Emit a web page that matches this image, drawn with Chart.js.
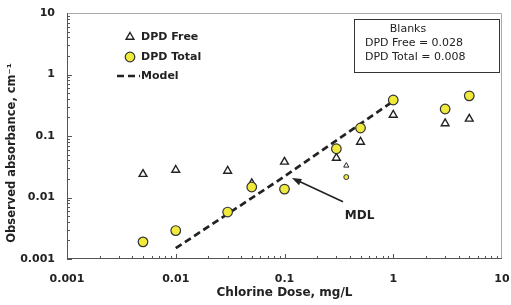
<!DOCTYPE html>
<html>
<head>
<meta charset="utf-8">
<script src="https://cdn.jsdelivr.net/npm/chart.js@4.4.1/dist/chart.umd.min.js"></script>
<style>
  body { margin: 0; background: #fff; }
  #chart { display: block; }
</style>
</head>
<body>
<canvas id="chart" width="511" height="305"></canvas>
<script>
// chlorine dose, mg/L
var doses = [0.005, 0.01, 0.03, 0.05, 0.1, 0.3, 0.5, 1, 3, 5];
// observed absorbance, cm-1
var dpdFree = [0.024, 0.028, 0.027, 0.017, 0.038, 0.044, 0.080, 0.22, 0.16, 0.19];
var dpdTotal = [0.0019, 0.0029, 0.0058, 0.0148, 0.0137, 0.062, 0.135, 0.385, 0.275, 0.45];
// one extra point drawn with small markers
var extraDose = [0.37];
var extraFree = [0.033];
var extraTotal = [0.0215];
// model line
var modelDose = [0.01, 0.1, 1];
var modelAbs = [0.0015, 0.022, 0.37];

var tickValues = [0.001, 0.01, 0.1, 1, 10];
var tickLabels = ['0.001', '0.01', '0.1', '1', '10'];
var blanksText = ['Blanks', 'DPD Free = 0.028', 'DPD Total = 0.008'];
// MDL arrow: tip, tail, label (data units)
var mdlTip = [0.117, 0.0207];
var mdlTail = [0.345, 0.0085];
var mdlLabel = [0.49, 0.005];

var FONT = 'DejaVu Sans';
var INK = '#222';
var YELLOW = '#f0ea3c';

function pts(xs, ys) {
    return xs.map(function (x, i) { return { x: x, y: ys[i] }; });
}

var extras = {
    id: 'extras',
    beforeDatasetsDraw: function (chart) {
        var ctx = chart.ctx, a = chart.chartArea;
        var xs = chart.scales.x, ys = chart.scales.y;
        ctx.save();
        // frame
        ctx.lineWidth = 1;
        ctx.strokeStyle = '#aaa';
        ctx.beginPath();
        ctx.moveTo(a.left, a.top + 0.5);
        ctx.lineTo(a.right - 0.5, a.top + 0.5);
        ctx.lineTo(a.right - 0.5, a.bottom);
        ctx.stroke();
        ctx.strokeStyle = '#555';
        ctx.beginPath();
        ctx.moveTo(a.left + 0.5, a.top);
        ctx.lineTo(a.left + 0.5, a.bottom - 0.5);
        ctx.lineTo(a.right, a.bottom - 0.5);
        ctx.stroke();
        // inside ticks, major and minor
        ctx.beginPath();
        for (var e = -3; e < 1; e++) {
            for (var k = 1; k <= 9; k++) {
                var v = k * Math.pow(10, e);
                var len = k === 1 ? 5 : 3;
                var px = Math.round(xs.getPixelForValue(v)) + 0.5;
                ctx.moveTo(px, a.bottom);
                ctx.lineTo(px, a.bottom - len);
                var py = Math.round(ys.getPixelForValue(v)) + 0.5;
                ctx.moveTo(a.left, py);
                ctx.lineTo(a.left + len, py);
            }
        }
        ctx.stroke();
        ctx.restore();
    },
    afterDraw: function (chart) {
        var ctx = chart.ctx, a = chart.chartArea;
        var xs = chart.scales.x, ys = chart.scales.y;
        var ds = chart.data.datasets;
        ctx.save();

        // legend inside the plot
        var lx = a.left + 63, ly = a.top + 24;
        ctx.font = 'bold 11px ' + FONT;
        ctx.textBaseline = 'middle';
        ctx.textAlign = 'left';
        [ds[0], ds[1]].forEach(function (d, i) {
            ctx.fillStyle = d.backgroundColor;
            ctx.strokeStyle = d.borderColor;
            ctx.lineWidth = d.borderWidth;
            Chart.helpers.drawPoint(ctx, { pointStyle: d.pointStyle, radius: d.pointRadius, borderWidth: d.borderWidth, rotation: 0 }, lx, ly + i * 20);
            ctx.fillStyle = INK;
            ctx.fillText(d.label, lx + 11, ly + i * 20);
        });
        ctx.strokeStyle = ds[2].borderColor;
        ctx.lineWidth = ds[2].borderWidth;
        ctx.setLineDash(ds[2].borderDash);
        ctx.beginPath();
        ctx.moveTo(lx - 13, ly + 39);
        ctx.lineTo(lx + 10, ly + 39);
        ctx.stroke();
        ctx.setLineDash([]);
        ctx.fillText(ds[2].label, lx + 11, ly + 39);

        // blanks box
        var bx = a.right - 148, by = a.top + 6, bw = 145, bh = 53;
        ctx.fillStyle = '#fff';
        ctx.fillRect(bx, by, bw, bh);
        ctx.strokeStyle = '#333';
        ctx.lineWidth = 1;
        ctx.strokeRect(bx + 0.5, by + 0.5, bw, bh);
        ctx.fillStyle = INK;
        ctx.font = '11px ' + FONT;
        ctx.textAlign = 'center';
        ctx.fillText(blanksText[0], bx + 54, by + 10);
        ctx.textAlign = 'left';
        ctx.fillText(blanksText[1], bx + 11, by + 24);
        ctx.fillText(blanksText[2], bx + 11, by + 38);

        // MDL arrow
        var tx = xs.getPixelForValue(mdlTip[0]), ty = ys.getPixelForValue(mdlTip[1]);
        var sx = xs.getPixelForValue(mdlTail[0]), sy = ys.getPixelForValue(mdlTail[1]);
        var ang = Math.atan2(ty - sy, tx - sx);
        ctx.strokeStyle = INK;
        ctx.fillStyle = INK;
        ctx.lineWidth = 1.6;
        ctx.beginPath();
        ctx.moveTo(sx, sy);
        ctx.lineTo(tx - 6 * Math.cos(ang), ty - 6 * Math.sin(ang));
        ctx.stroke();
        ctx.beginPath();
        ctx.moveTo(tx, ty);
        ctx.lineTo(tx - 10 * Math.cos(ang - 0.35), ty - 10 * Math.sin(ang - 0.35));
        ctx.lineTo(tx - 10 * Math.cos(ang + 0.35), ty - 10 * Math.sin(ang + 0.35));
        ctx.closePath();
        ctx.fill();
        ctx.font = 'bold 12px ' + FONT;
        ctx.textAlign = 'center';
        ctx.fillText('MDL', xs.getPixelForValue(mdlLabel[0]), ys.getPixelForValue(mdlLabel[1]));

        // y axis title
        ctx.translate(12, 153);
        ctx.rotate(-Math.PI / 2);
        ctx.font = 'bold 11.5px ' + FONT;
        ctx.fillText('Observed absorbance, cm\u207B\u00B9', 0, 0);
        ctx.restore();
    }
};

var tickFont = { family: FONT, weight: 'bold', size: 11 };

new Chart(document.getElementById('chart').getContext('2d'), {
    type: 'scatter',
    data: {
        datasets: [{
            label: 'DPD Free',
            data: pts(doses, dpdFree),
            pointStyle: 'triangle',
            pointRadius: 4.5,
            backgroundColor: '#fff',
            borderColor: INK,
            borderWidth: 1.4,
            order: 2
        }, {
            label: 'DPD Total',
            data: pts(doses, dpdTotal),
            pointStyle: 'circle',
            pointRadius: 4.8,
            backgroundColor: YELLOW,
            borderColor: '#333',
            borderWidth: 1.2,
            order: 1
        }, {
            label: 'Model',
            data: pts(modelDose, modelAbs),
            showLine: true,
            pointRadius: 0,
            borderColor: INK,
            borderWidth: 2.7,
            borderDash: [7, 4],
            order: 3
        }, {
            label: 'DPD Free (extra)',
            data: pts(extraDose, extraFree),
            pointStyle: 'triangle',
            pointRadius: 3,
            backgroundColor: '#fff',
            borderColor: INK,
            borderWidth: 1,
            order: 2
        }, {
            label: 'DPD Total (extra)',
            data: pts(extraDose, extraTotal),
            pointStyle: 'circle',
            pointRadius: 2.5,
            backgroundColor: YELLOW,
            borderColor: '#333',
            borderWidth: 1,
            order: 1
        }]
    },
    options: {
        responsive: false,
        animation: false,
        layout: { padding: { left: 0, right: 9, top: 13, bottom: 0 } },
        plugins: {
            legend: { display: false },
            tooltip: { enabled: false }
        },
        scales: {
            x: {
                type: 'logarithmic',
                min: 0.001,
                max: 10,
                grid: { display: false },
                border: { display: false },
                afterBuildTicks: function (s) { s.ticks = tickValues.map(function (v) { return { value: v }; }); },
                afterFit: function (s) { s.height = 46; s.paddingLeft = 0; s.paddingRight = 0; },
                ticks: {
                    autoSkip: false,
                    maxRotation: 0,
                    padding: 6,
                    color: INK,
                    font: tickFont,
                    callback: function (v, i) { return tickLabels[i]; }
                },
                title: {
                    display: true,
                    text: 'Chlorine Dose, mg/L',
                    color: INK,
                    font: { family: FONT, weight: 'bold', size: 12 },
                    padding: { top: 0, bottom: 5 }
                }
            },
            y: {
                type: 'logarithmic',
                min: 0.001,
                max: 10,
                grid: { display: false },
                border: { display: false },
                afterBuildTicks: function (s) { s.ticks = tickValues.map(function (v) { return { value: v }; }); },
                afterFit: function (s) { s.width = 67; s.paddingTop = 0; s.paddingBottom = 0; },
                ticks: {
                    autoSkip: false,
                    padding: 4,
                    color: INK,
                    font: tickFont,
                    callback: function (v, i) { return tickLabels[i]; }
                }
            }
        }
    },
    plugins: [extras]
});
</script>
</body>
</html>
